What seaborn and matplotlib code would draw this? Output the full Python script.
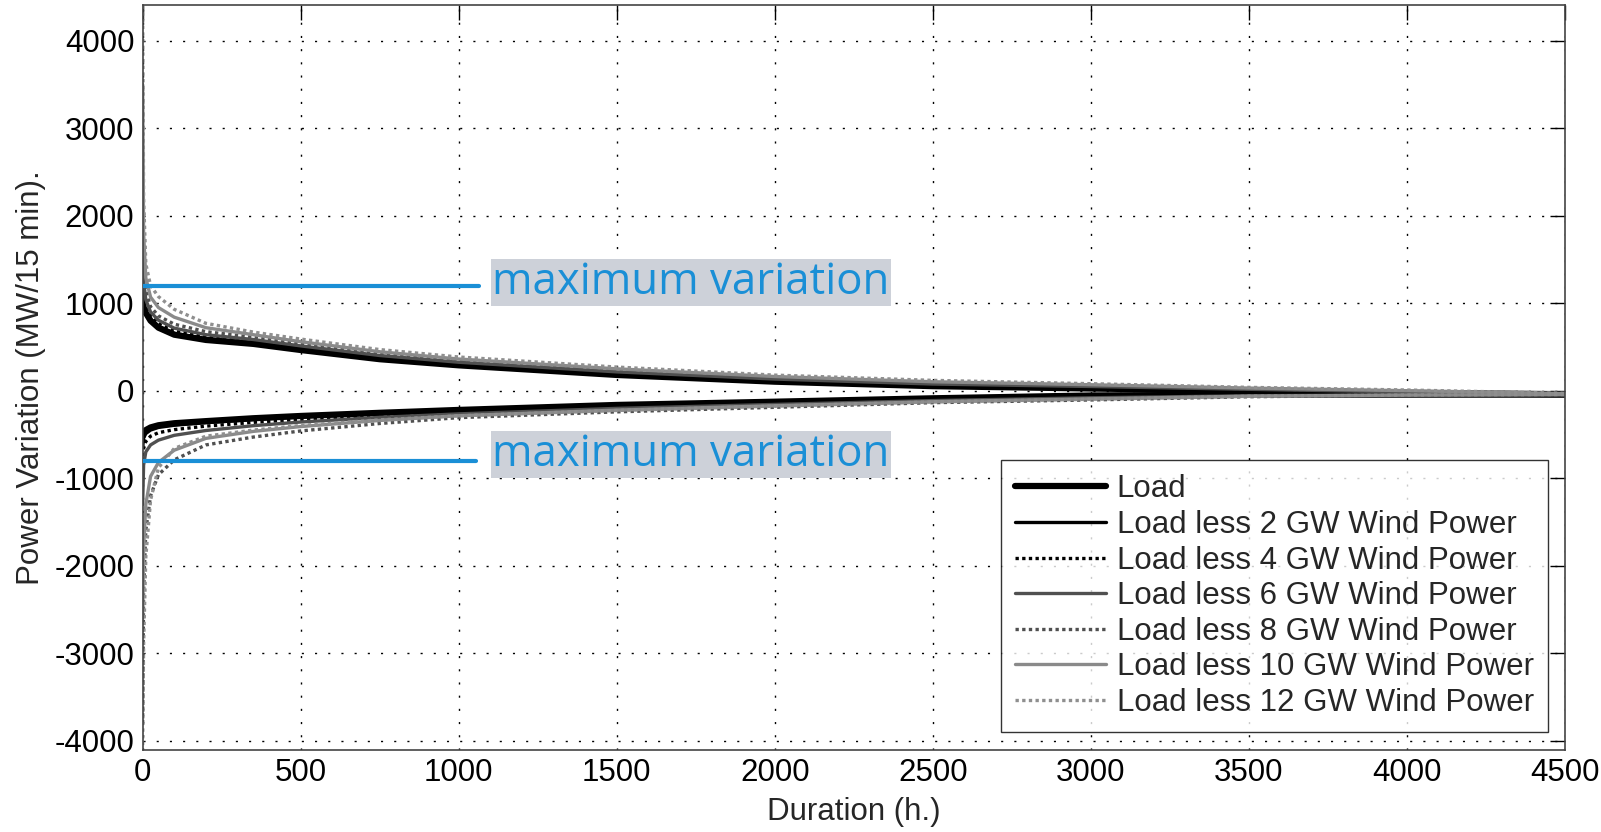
import numpy as np
import pandas as pd
import matplotlib
matplotlib.use("Agg")
import matplotlib.pyplot as plt
import seaborn as sns

# duration points (h.)
duration = [0, 3, 10, 25, 50, 100, 200, 350, 500, 750, 1000, 1500, 2000, 2500, 3000, 3500, 4000, 4500]

# positive (upward) variation duration curves, MW/15 min
up_load = [1100, 950, 890, 800, 720, 640, 580, 535, 465, 360, 290, 180, 103, 52, 25, 0, -25, -40]
up_2gw = [1300, 1000, 910, 815, 735, 655, 595, 550, 478, 372, 300, 188, 110, 58, 30, 4, -22, -40]
up_4gw = [1700, 1100, 960, 850, 765, 680, 615, 565, 492, 385, 312, 200, 120, 66, 38, 10, -18, -38]
up_6gw = [2200, 1250, 1040, 900, 805, 715, 640, 585, 512, 402, 325, 215, 133, 76, 48, 16, -14, -36]
up_8gw = [2800, 1450, 1150, 960, 855, 760, 675, 610, 535, 420, 342, 230, 146, 88, 58, 22, -8, -35]
up_10gw = [3500, 1800, 1290, 1070, 950, 840, 720, 640, 560, 445, 362, 250, 162, 102, 68, 30, 0, -32]
up_12gw = [4400, 2200, 1450, 1200, 1075, 930, 770, 670, 590, 470, 385, 270, 178, 118, 80, 38, 8, -30]

# negative (downward) variation duration curves
dn_load = [-520, -480, -450, -420, -395, -372, -348, -315, -289, -253, -220, -163, -126, -87, -55, -45, -45, -45]
dn_2gw = [-650, -540, -490, -450, -420, -395, -365, -330, -300, -262, -228, -170, -132, -92, -60, -48, -46, -45]
dn_4gw = [-900, -660, -580, -520, -480, -445, -405, -362, -328, -284, -248, -187, -145, -103, -71, -53, -47, -45]
dn_6gw = [-1300, -850, -700, -620, -565, -510, -455, -400, -358, -305, -265, -202, -157, -113, -81, -58, -48, -45]
dn_8gw = [-3800, -2300, -1600, -1200, -960, -790, -620, -530, -460, -375, -308, -242, -190, -137, -106, -69, -52, -45]
dn_10gw = [-2600, -1800, -1300, -980, -820, -680, -545, -465, -410, -340, -286, -222, -172, -126, -93, -63, -50, -45]
dn_12gw = [-4050, -2900, -1900, -1250, -880, -660, -520, -450, -398, -333, -287, -226, -176, -128, -98, -64, -50, -45]

labels = ["Load", "Load less 2 GW Wind Power", "Load less 4 GW Wind Power",
          "Load less 6 GW Wind Power", "Load less 8 GW Wind Power",
          "Load less 10 GW Wind Power", "Load less 12 GW Wind Power"]

max_up = 1200
max_down = -800

sns.set_style("white")
plt.rcParams['font.family'] = ['Liberation Sans', 'DejaVu Sans']
plt.rcParams['axes.unicode_minus'] = False

dot = (0, (1, 1))
styles = [
    ("black", "-", 4.5),
    ("black", "-", 2.4),
    ("black", dot, 2.4),
    ("#505050", "-", 2.4),
    ("#505050", dot, 2.4),
    ("#8a8a8a", "-", 2.4),
    ("#8f8f8f", dot, 2.4),
]

ups = [up_load, up_2gw, up_4gw, up_6gw, up_8gw, up_10gw, up_12gw]
downs = [dn_load, dn_2gw, dn_4gw, dn_6gw, dn_8gw, dn_10gw, dn_12gw]

fig = plt.figure(figsize=(16.01, 8.32), dpi=100)
ax = fig.add_axes([0.0891, 0.0986, 0.8884, 0.8954])

for lab, up, dn, (c, ls, lw) in zip(labels, ups, downs, styles):
    sns.lineplot(x=duration, y=up, ax=ax, color=c, linestyle=ls, lw=lw, label=lab)
    sns.lineplot(x=duration, y=dn, ax=ax, color=c, linestyle=ls, lw=lw)

blue = "#1a8fd6"
ax.plot([0, 1065], [max_up, max_up], color=blue, lw=3, zorder=5)
ax.plot([0, 1055], [max_down, max_down], color=blue, lw=3, zorder=5)
for yv in (max_up + 35, max_down + 70):
    ax.text(1105, yv, "maximum variation", color=blue, fontsize=31.5, va="center",
            family="Open Sans", zorder=6,
            bbox=dict(facecolor="#cdd1d9", edgecolor="none", pad=1))

ax.set_xlim(0, 4500)
ax.set_ylim(-4106, 4408)
ax.set_xticks(np.arange(0, 4501, 500))
ax.set_yticks(np.arange(-4000, 4001, 1000))
ax.grid(True, color="black", linestyle=(0, (1.5, 8)), lw=1)
ax.tick_params(direction="in", length=11, width=1, top=True, right=True,
               labelsize=22.5, pad=6, colors="black")
for s in ax.spines.values():
    s.set_color("#444444")
    s.set_linewidth(1.2)

ax.set_xlabel("Duration (h.)", fontsize=22.5, labelpad=6)
ax.set_ylabel("Power Variation (MW/15 min).", fontsize=22.5, labelpad=6)

leg = ax.legend(loc="lower right", bbox_to_anchor=(0.988, 0.024), borderaxespad=0,
                fontsize=22.5, frameon=True, fancybox=False, edgecolor="black",
                handlelength=2.9, handletextpad=0.35, labelspacing=0.18,
                borderpad=0.45)
leg.get_frame().set_linewidth(1)

plt.savefig("out.png", dpi=100)
